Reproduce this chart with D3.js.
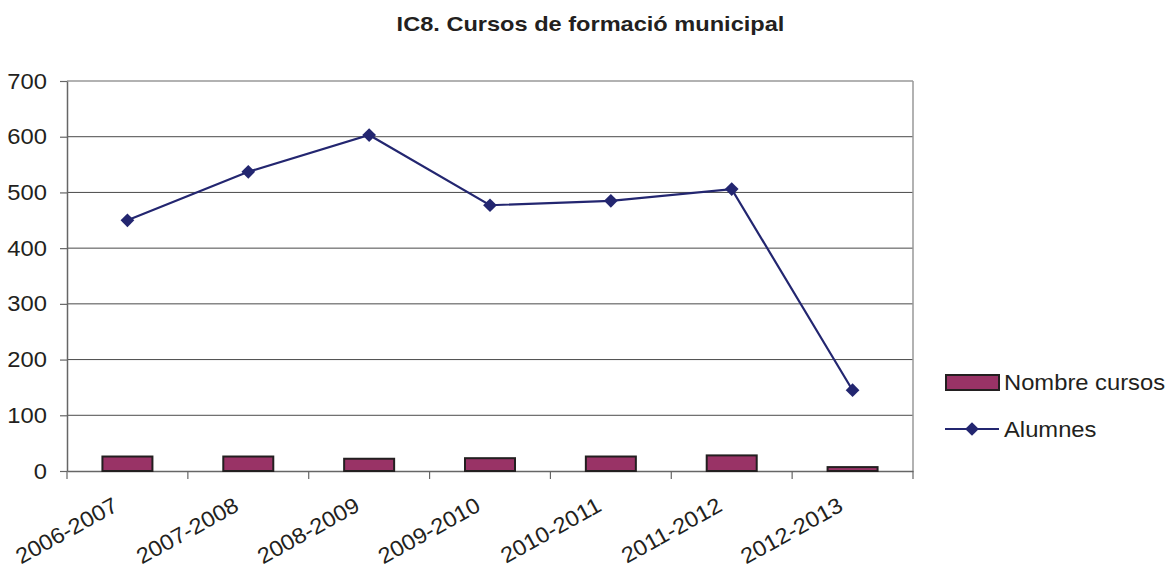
<!DOCTYPE html>
<html><head><meta charset="utf-8">
<script src="https://cdn.jsdelivr.net/npm/d3@7"></script>
<style>body{margin:0;background:#fff}svg{display:block}text{font-family:"Liberation Sans",Arial,sans-serif;fill:#231f20}</style>
</head><body><svg id="c" width="1171" height="571"></svg>
<script>
const categories=["2006-2007","2007-2008","2008-2009","2009-2010","2010-2011","2011-2012","2012-2013"];
const nombreCursos=[26,26,22,23,26,28,7];
const alumnes=[450,537,603,477,485,506,145];
const yTicks=[0,100,200,300,400,500,600,700];
const title="IC8. Cursos de formació municipal";
const seriesNames=["Nombre cursos","Alumnes"];

const svg=d3.select("#c");
const m={l:67,r:913,t:81,b:471};
const x=d3.scaleBand().domain(categories).range([m.l,m.r]);
const y=d3.scaleLinear().domain([0,700]).range([m.b,m.t]);
const lineCol="#232670", barCol="#993366";
const FS="22px";
function stretch(sel,k){sel.each(function(){const L=this.getComputedTextLength();d3.select(this).attr("textLength",L*k).attr("lengthAdjust","spacingAndGlyphs");});}

const t=svg.append("text").attr("x",590.5).attr("y",31).attr("text-anchor","middle")
  .style("font-weight","bold").style("font-size","20.5px").text(title);
stretch(t,1.15);

// gridlines
svg.append("g").selectAll("line").data(yTicks.filter(d=>d>0&&d<700)).join("line")
  .attr("x1",m.l).attr("x2",m.r).attr("y1",d=>y(d)).attr("y2",d=>y(d))
  .attr("stroke","#4a4a4a").attr("stroke-width",1);
// plot border
svg.append("line").attr("x1",m.l).attr("x2",m.r).attr("y1",m.t).attr("y2",m.t).attr("stroke","#999").attr("stroke-width",1.5);
svg.append("line").attr("x1",m.r).attr("x2",m.r).attr("y1",m.t).attr("y2",m.b).attr("stroke","#999").attr("stroke-width",1.5);

// y axis
const ya=svg.append("g").attr("transform",`translate(${m.l},0)`)
  .call(d3.axisLeft(y).tickValues(yTicks).tickSize(7).tickPadding(13).tickSizeOuter(0));
ya.select(".domain").attr("stroke","#666").attr("stroke-width",1.5);
ya.selectAll(".tick line").attr("stroke","#666").attr("stroke-width",1.2);
ya.selectAll("text").style("font-size",FS).style("font-family","Liberation Sans, Arial, sans-serif").attr("fill","#231f20").call(stretch,1.08);

// x axis
const xa=svg.append("g").attr("transform",`translate(0,${m.b})`)
  .call(d3.axisBottom(x).tickSize(0).tickFormat(""));
xa.select(".domain").attr("stroke","#666").attr("stroke-width",1.5);
const edges=categories.map(c=>x(c)).concat([m.r]);
svg.append("g").selectAll("line").data(edges).join("line")
  .attr("x1",d=>d).attr("x2",d=>d).attr("y1",m.b).attr("y2",m.b+8).attr("stroke","#666").attr("stroke-width",1.2);
svg.append("g").selectAll("text").data(categories).join("text")
  .attr("transform",d=>`translate(${x(d)+x.bandwidth()/2-8},${m.b+39}) rotate(-29)`)
  .attr("text-anchor","end").style("font-size",FS).text(d=>d).call(stretch,1.07);

// bars
const bw=50;
svg.append("g").selectAll("rect").data(nombreCursos).join("rect")
  .attr("x",(d,i)=>x(categories[i])+x.bandwidth()/2-bw/2).attr("width",bw)
  .attr("y",d=>y(d)).attr("height",d=>m.b-y(d))
  .attr("fill",barCol).attr("stroke","#231f20").attr("stroke-width",2);

// line
const cx=(d,i)=>x(categories[i])+x.bandwidth()/2;
svg.append("path").datum(alumnes).attr("fill","none").attr("stroke",lineCol).attr("stroke-width",2.2)
  .attr("d",d3.line().x(cx).y(d=>y(d)));
const diamond=d3.symbol().type(d3.symbolDiamond2).size(120);
svg.append("g").selectAll("path").data(alumnes).join("path")
  .attr("transform",(d,i)=>`translate(${cx(d,i)},${y(d)})`).attr("d",diamond).attr("fill",lineCol);

// legend
const lg=svg.append("g");
lg.append("rect").attr("x",946).attr("y",375).attr("width",53).attr("height",15).attr("fill",barCol).attr("stroke","#231f20").attr("stroke-width",2);
lg.append("text").attr("x",1004).attr("y",390).style("font-size",FS).text(seriesNames[0]).call(stretch,1.08);
lg.append("line").attr("x1",945).attr("x2",999).attr("y1",429).attr("y2",429).attr("stroke",lineCol).attr("stroke-width",2.2);
lg.append("path").attr("transform","translate(972,429)").attr("d",diamond).attr("fill",lineCol);
lg.append("text").attr("x",1004).attr("y",437).style("font-size",FS).text(seriesNames[1]).call(stretch,1.08);
</script></body></html>
